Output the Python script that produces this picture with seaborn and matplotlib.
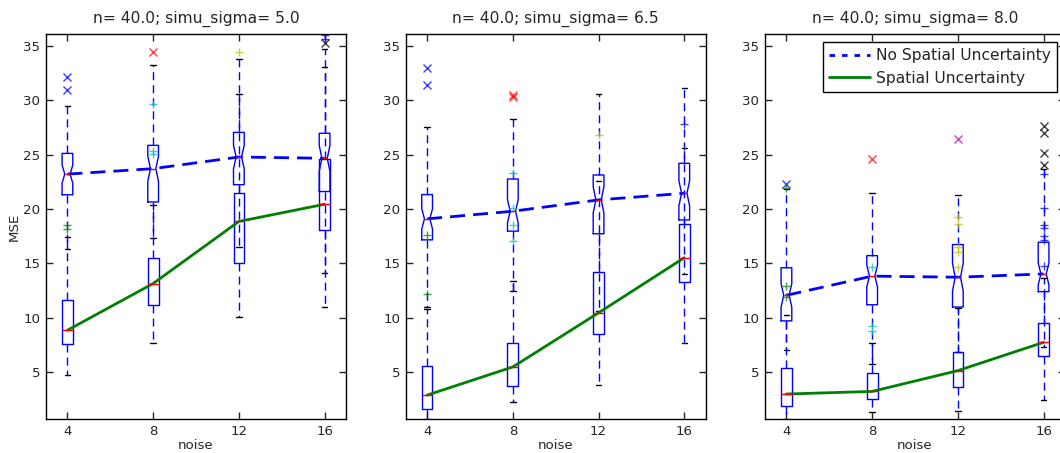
import numpy as np
import matplotlib
matplotlib.use("Agg")
import matplotlib.pyplot as plt
import seaborn as sns

noise = [4, 8, 12, 16]
sigmas = [5.0, 6.5, 8.0]
n_runs = 50

# No Spatial Uncertainty boxes, one list per panel
nosu_q1 = [[21.3, 20.64, 22.23, 21.6], [17.16, 17.96, 17.72, 18.99], [9.72, 11.2, 10.99, 12.4]]
nosu_med = [[23.2, 23.7, 24.77, 24.65], [19.09, 19.79, 20.83, 21.44], [12.07, 13.83, 13.73, 14.03]]
nosu_q3 = [[25.1, 25.84, 27.03, 26.95], [21.32, 22.75, 23.12, 24.19], [14.6, 15.71, 16.73, 16.94]]
nosu_lo = [[16.3, 17.3, 16.5, 14.1], [11.0, 12.5, 10.6, 14.0], [7.0, 5.8, 6.85, 7.35]]
nosu_hi = [[29.5, 33.2, 33.8, 34.7], [27.5, 28.3, 30.6, 31.1], [21.8, 21.47, 21.31, 23.7]]
nosu_fliers = [
    [[30.9, 32.1], [34.4], [], [35.2]],
    [[31.4, 32.9], [30.3, 30.5], [], []],
    [[22.3], [24.6], [26.42], [24.0, 25.1, 27.0, 27.6]],
]

# Spatial Uncertainty boxes
su_q1 = [[7.62, 11.14, 15.0, 18.07], [1.64, 3.73, 8.52, 13.3], [1.91, 2.53, 3.67, 6.51]]
su_med = [[8.86, 13.15, 18.85, 20.43], [2.9, 5.49, 10.46, 15.52], [3.0, 3.24, 5.15, 7.75]]
su_q3 = [[11.6, 15.46, 21.47, 24.55], [5.62, 7.65, 14.23, 18.62], [5.43, 4.94, 6.85, 9.48]]
su_lo = [[4.75, 7.72, 10.09, 11.0], [0.74, 2.25, 3.86, 7.72], [0.75, 1.36, 1.42, 2.44]]
su_hi = [[17.4, 20.34, 30.57, 33.0], [10.8, 13.4, 22.6, 25.6], [10.25, 7.72, 10.93, 13.64]]
su_fliers = [
    [[18.2, 18.55], [25.05, 25.3, 29.6], [34.45], [35.6, 36.0]],
    [[12.16, 17.65], [17.07, 18.49, 20.1, 23.3], [26.8], [27.8]],
    [[11.87, 12.95, 21.9], [8.77, 9.23, 14.7], [14.69, 16.02, 16.48, 18.66, 19.27],
     [14.75, 17.16, 17.5, 18.26, 18.53, 20.06, 23.25]],
]

flier_colors = ['b', 'g', 'r', 'c', 'm', 'y', 'k']

sns.set_style("ticks")
plt.rcParams['font.family'] = ['DejaVu Sans']
plt.rcParams['font.size'] = 9.6
plt.rcParams['axes.edgecolor'] = 'black'
plt.rcParams['axes.linewidth'] = 1.0


def box_stats(q1, med, q3, lo, hi, fl):
    ci = 1.57 * (q3 - q1) / np.sqrt(n_runs)
    return dict(q1=q1, med=med, q3=q3, whislo=lo, whishi=hi, fliers=fl,
                cilo=med - ci, cihi=med + ci)


def draw_box(ax, pos, st, notched, marker, color):
    ax.bxp([st], positions=[pos], widths=0.5, capwidths=0.25, shownotches=notched,
           manage_ticks=False,
           boxprops=dict(color='b', lw=1),
           medianprops=dict(color='r', lw=1),
           whiskerprops=dict(color='b', lw=1, linestyle=(0, (5.8, 3.6))),
           capprops=dict(color='k', lw=1),
           flierprops=dict(marker=marker, markeredgecolor=color, markerfacecolor='none',
                           markersize=6, markeredgewidth=1, alpha=0.75, linestyle='none'))


fig = plt.figure(figsize=(10.6, 4.53), dpi=100)
lefts = [46, 405.7, 765]

for i, sig in enumerate(sigmas):
    ax = fig.add_axes([lefts[i] / 1060, 0.0744, 300 / 1060, 0.8506])
    k = 0
    for j, x in enumerate(noise):
        st = box_stats(nosu_q1[i][j], nosu_med[i][j], nosu_q3[i][j],
                       nosu_lo[i][j], nosu_hi[i][j], nosu_fliers[i][j])
        draw_box(ax, x, st, True, 'x', flier_colors[k % 7])
        k += 1
        st = box_stats(su_q1[i][j], su_med[i][j], su_q3[i][j],
                       su_lo[i][j], su_hi[i][j], su_fliers[i][j])
        draw_box(ax, x, st, False, '+', flier_colors[k % 7])
        k += 1

    sns.lineplot(x=noise, y=nosu_med[i], ax=ax, color='b', lw=2,
                 linestyle=(0, (5.4, 2.9)), errorbar=None, legend=False,
                 label='No Spatial Uncertainty')
    sns.lineplot(x=noise, y=su_med[i], ax=ax, color=(0, 0.5, 0), lw=2,
                 errorbar=None, legend=False, label='Spatial Uncertainty')

    ax.set_xlim(3, 17)
    ax.set_ylim(0.68, 36.07)
    ax.set_xticks(noise)
    ax.set_xticklabels([str(v) for v in noise])
    ax.set_yticks([5, 10, 15, 20, 25, 30, 35])
    ax.tick_params(direction='in', top=True, right=True, length=5, width=1,
                   labelsize=9.6, pad=4)
    for s in ax.spines.values():
        s.set_visible(True)
        s.set_color('black')
    ax.set_title('n= 40.0; simu_sigma= %s' % sig, fontsize=11.2, pad=8)
    ax.set_xlabel('noise', fontsize=9.6, labelpad=1)
    if i == 0:
        ax.set_ylabel('MSE', fontsize=9.6, labelpad=2)
    else:
        ax.set_ylabel('')
    if i == 2:
        leg = ax.legend(loc='upper right', fontsize=11.2, fancybox=False, framealpha=1,
                        edgecolor='black', handlelength=2.6, handletextpad=0.4,
                        borderpad=0.4, labelspacing=0.5)
        leg.get_frame().set_linewidth(1.0)
        leg.get_lines()[0].set_linestyle((0, (2, 2.5)))

fig.savefig('out.png', dpi=100)
